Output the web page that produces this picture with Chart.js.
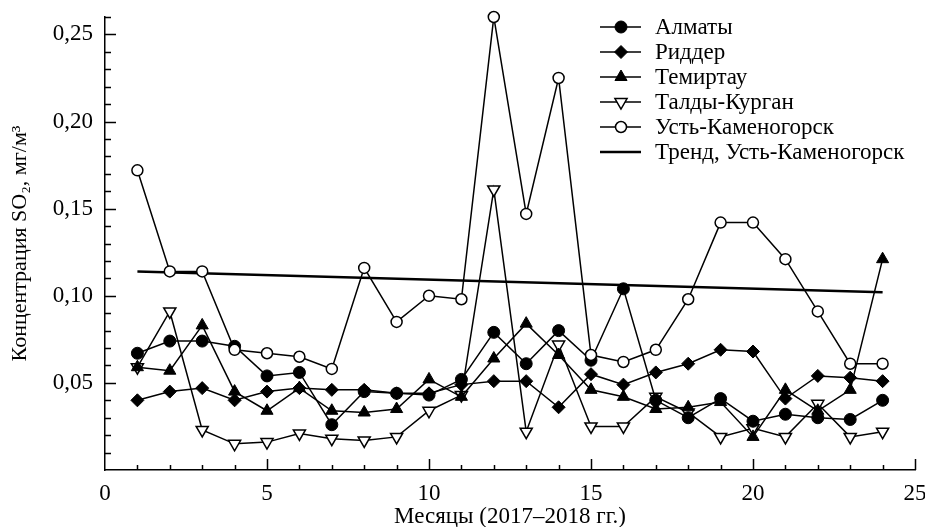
<!DOCTYPE html>
<html>
<head>
<meta charset="utf-8">
<script src="https://cdn.jsdelivr.net/npm/chart.js@4/dist/chart.umd.min.js"></script>
<style>
  html, body { margin: 0; padding: 0; background: #fff; }
  #box { width: 925px; height: 527px; }
</style>
</head>
<body>
<div id="box"><canvas id="grafico" width="925" height="527"></canvas></div>
<script>
// ================= DADOS =================
const meses = [1, 2, 3, 4, 5, 6, 7, 8, 9, 10, 11, 12, 13, 14, 15, 16, 17, 18, 19, 20, 21, 22, 23, 24];
const almaty   = [0.067, 0.074, 0.074, 0.071, 0.054, 0.056, 0.026, 0.045, 0.044, 0.043, 0.052, 0.079, 0.061, 0.080, 0.063, 0.104, 0.040, 0.030, 0.041, 0.028, 0.032, 0.030, 0.029, 0.040];
const ridder   = [0.040, 0.045, 0.047, 0.040, 0.045, 0.047, 0.046, 0.046, 0.044, 0.044, 0.049, 0.051, 0.051, 0.036, 0.055, 0.049, 0.056, 0.061, 0.069, 0.068, 0.041, 0.054, 0.053, 0.051];
const temirtau = [0.059, 0.057, 0.083, 0.045, 0.034, 0.047, 0.034, 0.033, 0.035, 0.052, 0.042, 0.064, 0.084, 0.066, 0.046, 0.042, 0.035, 0.036, 0.039, 0.019, 0.046, 0.034, 0.046, 0.121];
const taldy    = [0.059, 0.091, 0.023, 0.015, 0.016, 0.021, 0.018, 0.017, 0.019, 0.034, 0.043, 0.161, 0.022, 0.072, 0.025, 0.025, 0.042, 0.033, 0.019, 0.024, 0.019, 0.038, 0.019, 0.022];
const ustKam   = [0.172, 0.114, 0.114, 0.069, 0.067, 0.065, 0.058, 0.116, 0.085, 0.100, 0.098, 0.260, 0.147, 0.225, 0.066, 0.062, 0.069, 0.098, 0.142, 0.142, 0.121, 0.091, 0.061, 0.061];
const trendX = [1, 24];
const trendY = [0.114, 0.102];

const xTicks = [0, 5, 10, 15, 20, 25];
const yTicks = [0.05, 0.10, 0.15, 0.20, 0.25];

const fonte = 'Liberation Serif, Times New Roman, serif';

function pontos(xs, ys) {
  return xs.map((x, i) => ({ x: x, y: ys[i] }));
}

function serie(label, valores, estilo, extra) {
  return Object.assign({
    label: label,
    data: pontos(meses, valores),
    borderColor: '#000',
    borderWidth: 1.5,
    pointStyle: estilo,
    pointRadius: 6,
    pointBackgroundColor: '#000',
    pointBorderColor: '#000',
    pointBorderWidth: 1,
    tension: 0,
    fill: false,
    clip: false
  }, extra || {});
}

// ================= TRACINHOS DOS EIXOS (para dentro) =================
const tracinhos = {
  id: 'tracinhos',
  beforeDatasetsDraw(chart) {
    const ctx = chart.ctx;
    const xs = chart.scales.x, ys = chart.scales.y;
    const esq = chart.chartArea.left, baixo = chart.chartArea.bottom;
    ctx.save();
    ctx.strokeStyle = '#000';
    ctx.lineWidth = 1.5;
    ctx.beginPath();
    for (let i = 1; i <= 26; i++) {
      const py = Math.round(ys.getPixelForValue(i / 100)) + 0.5;
      const len = i % 5 === 0 ? 11 : 6;
      ctx.moveTo(esq, py);
      ctx.lineTo(esq + len, py);
    }
    for (let i = 1; i <= 25; i++) {
      const px = Math.round(xs.getPixelForValue(i)) + 0.5;
      const len = i % 5 === 0 ? 11 : 5;
      ctx.moveTo(px, baixo);
      ctx.lineTo(px, baixo - len);
    }
    ctx.stroke();
    ctx.restore();
  }
};

// ================= LEGENDA COM LINHA + MARCADOR =================
const legenda = {
  id: 'legenda',
  afterDraw(chart) {
    const ctx = chart.ctx;
    const x0 = 600, x1 = 641, xm = 621, xt = 655;
    ctx.save();
    ctx.font = '23px ' + fonte;
    ctx.textBaseline = 'middle';
    ctx.fillStyle = '#000';
    chart.data.datasets.forEach((ds, i) => {
      const y = 27 + i * 25;
      ctx.strokeStyle = '#000';
      ctx.lineWidth = ds.borderWidth;
      ctx.beginPath();
      ctx.moveTo(x0, y);
      ctx.lineTo(x1, y);
      ctx.stroke();
      if (ds.pointRadius > 0) {
        ctx.fillStyle = ds.pointBackgroundColor;
        ctx.strokeStyle = '#000';
        ctx.lineWidth = ds.pointBorderWidth;
        Chart.helpers.drawPoint(ctx, {
          pointStyle: ds.pointStyle,
          rotation: ds.pointRotation || 0,
          radius: ds.pointRadius,
          borderWidth: ds.pointBorderWidth
        }, xm, y);
      }
      ctx.fillStyle = '#000';
      ctx.fillText(ds.label, xt, y + 1);
    });
    ctx.restore();
  }
};

// ================= GRÁFICO =================
new Chart(document.getElementById('grafico'), {
  type: 'line',
  data: {
    datasets: [
      serie('Алматы', almaty, 'circle'),
      serie('Риддер', ridder, 'rectRot', { pointRadius: 6.5 }),
      serie('Темиртау', temirtau, 'triangle', { pointRadius: 7 }),
      serie('Талды-Курган', taldy, 'triangle', { pointRadius: 7, pointRotation: 180, pointBackgroundColor: '#fff', pointBorderWidth: 1.5 }),
      serie('Усть-Каменогорск', ustKam, 'circle', { pointRadius: 5.5, pointBackgroundColor: '#fff', pointBorderWidth: 1.5, order: -1 }),
      {
        label: 'Тренд, Усть-Каменогорск',
        data: pontos(trendX, trendY),
        borderColor: '#000',
        borderWidth: 2.5,
        pointRadius: 0,
        tension: 0,
        fill: false
      }
    ]
  },
  options: {
    responsive: false,
    animation: false,
    devicePixelRatio: 1,
    layout: { padding: { top: 17, right: 10, left: 0, bottom: 0 } },
    plugins: {
      legend: { display: false },
      tooltip: { enabled: false }
    },
    scales: {
      x: {
        type: 'linear',
        min: 0,
        max: 25,
        afterBuildTicks: s => { s.ticks = xTicks.map(v => ({ value: v })); },
        afterFit: s => { s.height = 57; s.paddingLeft = 0; s.paddingRight = 0; },
        grid: { display: false, drawTicks: false },
        border: { display: true, color: '#000', width: 1.5 },
        ticks: {
          color: '#000',
          padding: 10,
          maxRotation: 0,
          font: { family: fonte, size: 23 },
          callback: v => String(v)
        },
        title: {
          display: true,
          text: 'Месяцы (2017–2018 гг.)',
          color: '#000',
          font: { family: fonte, size: 23, lineHeight: 1 },
          padding: { top: 0, bottom: -1 }
        }
      },
      y: {
        type: 'linear',
        min: 0,
        max: 0.26,
        afterBuildTicks: s => { s.ticks = yTicks.map(v => ({ value: v })); },
        afterFit: s => { s.width = 105; s.paddingTop = 0; s.paddingBottom = 0; },
        grid: { display: false, drawTicks: false },
        border: { display: true, color: '#000', width: 1.5 },
        ticks: {
          color: '#000',
          padding: 12,
          font: { family: fonte, size: 23 },
          callback: v => v.toFixed(2).replace('.', ',')
        },
        title: {
          display: true,
          text: 'Концентрация SO₂, мг/м³',
          color: '#000',
          font: { family: fonte, size: 22 },
          padding: { top: 7, bottom: 4 }
        }
      }
    }
  },
  plugins: [tracinhos, legenda]
});
</script>
</body>
</html>
